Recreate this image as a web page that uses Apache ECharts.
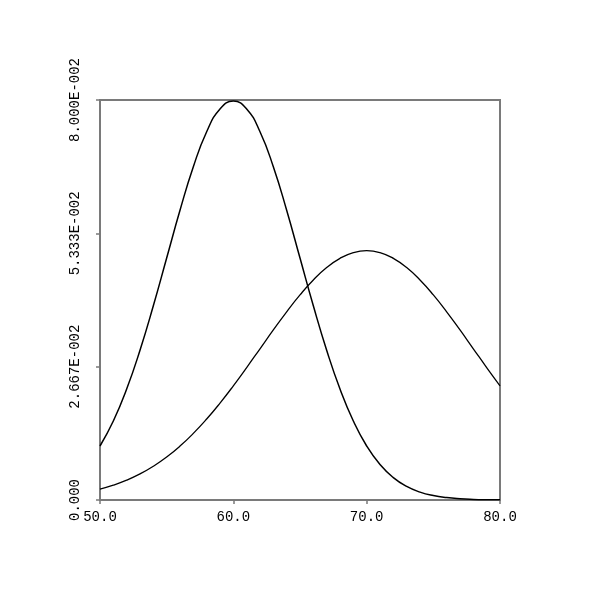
<!DOCTYPE html>
<html>
<head>
<meta charset="utf-8">
<script src="https://cdn.jsdelivr.net/npm/echarts@6/dist/echarts.min.js"></script>
<style>html,body{margin:0;padding:0;background:#fff}#c{width:600px;height:600px}</style>
</head>
<body>
<div id="c"></div>
<script>
var xValues = [50,51,52,53,54,55,56,57,58,59,60,61,62,63,64,65,66,67,68,69,70,71,72,73,74,75,76,77,78,79,80];
var curveA = [0.01080,0.01579,0.02218,0.02995,0.03884,0.04839,0.05794,0.06665,0.07365,0.07821,0.07979,
              0.07821,0.07365,0.06665,0.05794,0.04839,0.03884,0.02995,0.02218,0.01579,0.01080,
              0.007095,0.004479,0.002717,0.001583,0.000886,0.000477,0.000246,0.000122,0.000058,0.000027];
var curveB = [0.002191,0.002971,0.003967,0.005215,0.006749,0.008598,0.010785,0.013317,0.016190,0.019377,0.022831,
              0.026485,0.030246,0.034007,0.037642,0.041020,0.044008,0.046482,0.048334,0.049480,0.049868,
              0.049480,0.048334,0.046482,0.044008,0.041020,0.037642,0.034007,0.030246,0.026485,0.022831];
var xTickLabels = ['50.0','60.0','70.0','80.0'];
var yTickLabels = ['0.000','2.667E-002','5.333E-002','8.000E-002'];

function pairs(xs, ys){ return xs.map(function(x,i){ return [x, ys[i]]; }); }

var chart = echarts.init(document.getElementById('c'), null, {renderer:'canvas'});
var axisCol = '#7a7a7a';
var font = {fontFamily:'Liberation Mono', fontSize:14, color:'#000'};
chart.setOption({
  animation:false,
  backgroundColor:'#fff',
  grid:{left:100,right:100,top:100,bottom:100,show:true,borderColor:axisCol,borderWidth:2,backgroundColor:'transparent'},
  xAxis:{type:'value',min:50,max:80,interval:10,
    axisLine:{show:true,lineStyle:{color:axisCol,width:2}},
    axisTick:{show:true,length:4,lineStyle:{color:axisCol,width:1.5}},
    splitLine:{show:false},
    axisLabel:Object.assign({margin:10,formatter:function(v,i){return xTickLabels[i];}}, font)
  },
  yAxis:{type:'value',min:0,max:0.08,interval:0.08/3,
    axisLine:{show:true,lineStyle:{color:axisCol,width:2}},
    axisTick:{show:true,length:4,lineStyle:{color:axisCol,width:1.5}},
    splitLine:{show:false},
    axisLabel:Object.assign({margin:18,rotate:90,formatter:function(v,i){return yTickLabels[i];}}, font)
  },
  series:[
    {type:'line',data:pairs(xValues,curveA),smooth:true,symbol:'none',lineStyle:{color:'#000',width:1.5}},
    {type:'line',data:pairs(xValues,curveB),smooth:true,symbol:'none',lineStyle:{color:'#000',width:1.3}}
  ]
});
</script>
</body>
</html>
